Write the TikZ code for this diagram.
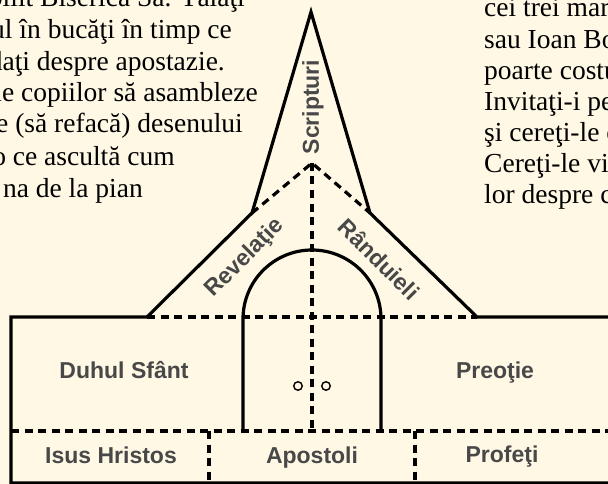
\documentclass[tikz,border=0pt]{standalone}
\usepackage{fontspec}
\setmainfont{Liberation Serif}
\newfontfamily\lblfont{Liberation Sans}
\definecolor{paper}{RGB}{255,248,229}
\definecolor{ink}{RGB}{72,72,72}

\begin{document}
\begin{tikzpicture}[x=1pt, y=-1pt,
	wall/.style={line width=3.2pt},
	hidden/.style={line width=3.2pt, dash pattern=on 8pt off 5.5pt},
	lbl/.style={text=ink, inner sep=0pt, font=\lblfont\bfseries\fontsize{23}{27}\selectfont},
	body/.style={inner sep=0pt, font=\fontsize{27.5}{31}\selectfont},
	knob/.style={draw, circle, line width=1.4pt, minimum size=8.5pt, inner sep=0pt}]
	\fill[paper] (0,0) rectangle (608,484);
	\useasboundingbox (0,0) rectangle (608,484);

	\node[body, anchor=base east] (l1) at (245,7) {abilit Biserica Sa. Tăiaţi};
	\node[body, anchor=base east] (l2) at (232,39) {ul în bucăţi în timp ce};
	\node[body, anchor=base east] (l3) at (225,71) {daţi despre apostazie.};
	\node[body, anchor=base east] (l4) at (258,102) {le copiilor să asambleze};
	\node[body, anchor=base east] (l5) at (243,133) {e (să refacă) desenului};
	\node[body, anchor=base east] (l6) at (175,165) {o ce ascultă cum};
	\node[body, anchor=base east] (l7) at (143,197) {na de la pian};

	\node[body, anchor=base west] (r1) at (484,17) {cei trei mart};
	\node[body, anchor=base west] (r2) at (484,49) {sau Ioan Bo};
	\node[body, anchor=base west] (r3) at (484,80) {poarte costu};
	\node[body, anchor=base west] (r4) at (484,111) {Invitaţi-i pe};
	\node[body, anchor=base west] (r5) at (484,142) {şi cereţi-le c};
	\node[body, anchor=base west] (r6) at (484,173) {Cereţi-le viz};
	\node[body, anchor=base west] (r7) at (484,204) {lor despre c};

	\coordinate (T) at (311,12);
	\coordinate (L) at (252,213);
	\coordinate (R) at (370,213);
	\coordinate (M) at (312,163);
	\coordinate (EL) at (147,317);
	\coordinate (ER) at (477,317);
	\coordinate (WL) at (11,317);
	\coordinate (WR) at (612,317);
	\coordinate (FL) at (11,431);
	\coordinate (FR) at (612,431);
	\coordinate (BL) at (11,483);
	\coordinate (BR) at (612,483);
	\coordinate (D) at (312,431);
	\coordinate (AL) at (243,431);
	\coordinate (AR) at (381,431);
	\coordinate (P) at (209,431);
	\coordinate (p) at (209,483);
	\coordinate (Q) at (415,431);
	\coordinate (q) at (415,483);

	\draw[hidden] (L) -- (M) -- (R);
	\draw[hidden] (M) -- (D);
	\draw[hidden] (EL) -- (ER);
	\draw[hidden] (FL) -- (FR);
	\draw[hidden] (P) -- (p);
	\draw[hidden] (Q) -- (q);

	\draw[wall] (BR) -- (BL) -- (WL) -- (EL) -- (L) -- (T) -- (R) -- (ER) -- (WR);
	\draw[wall] (AL) -- (243,319) arc[start angle=180, end angle=0, radius=69pt] -- (AR);

	\node[knob] (K1) at (298,386) {};
	\node[knob] (K2) at (326,386) {};

	\node[lbl, rotate=90] (S) at (313,107) {Scripturi};
	\node[lbl, rotate=45] (Rv) at (245,258) {Revelaţie};
	\node[lbl, rotate=-45] (Rd) at (379,259) {Rânduieli};
	\node[lbl, anchor=base] (DS) at (124,378) {Duhul Sfânt};
	\node[lbl, anchor=base] (Pr) at (495,378) {Preoţie};
	\node[lbl, anchor=base] (IH) at (111,463) {Isus Hristos};
	\node[lbl, anchor=base] (Ap) at (312,463) {Apostoli};
	\node[lbl, anchor=base] (Pf) at (502,462) {Profeţi};
\end{tikzpicture}
\end{document}
